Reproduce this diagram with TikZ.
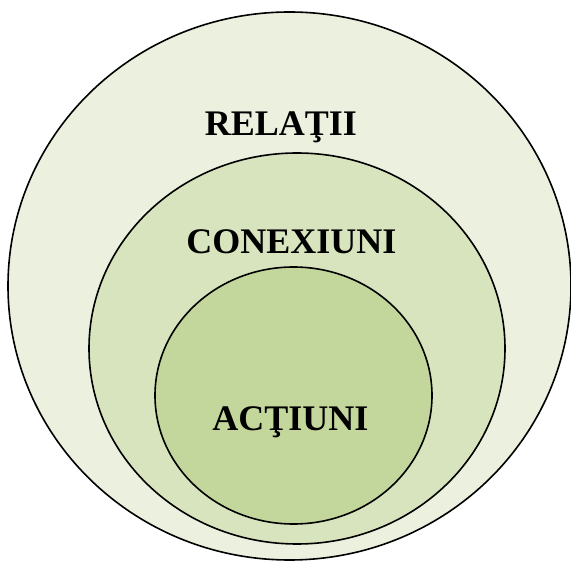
\documentclass[tikz,border=0pt]{standalone}
\usepackage{fontspec}
\setmainfont{Liberation Serif}
\usetikzlibrary{shapes.geometric}
\definecolor{ringA}{HTML}{EBF1DE}
\definecolor{ringB}{HTML}{D7E4BD}
\definecolor{ringC}{HTML}{C3D69B}
\tikzset{
  ring/.style={ellipse, draw=black, line width=1.6pt, inner sep=0pt, outer sep=0pt},
  lbl/.style={anchor=base, inner sep=0pt, font=\fontsize{36}{40}\selectfont\bfseries}
}
\begin{document}
\begin{tikzpicture}[x=1pt,y=-1pt]
\useasboundingbox (0,0) rectangle (571,561);
\node[ring, fill=ringA, minimum width=563pt, minimum height=548pt] (outer) at (289.5,286) {};
\node[ring, fill=ringB, minimum width=416pt, minimum height=391pt] (middle) at (297,348.5) {};
\node[ring, fill=ringC, minimum width=277pt, minimum height=257pt] (inner) at (293.5,395.5) {};
\node[lbl] (rel) at (281,136) {RELAŢII};
\node[lbl] (con) at (291.5,253.3) {CONEXIUNI};
\node[lbl] (act) at (290.5,431) {ACŢIUNI};
\end{tikzpicture}
\end{document}
